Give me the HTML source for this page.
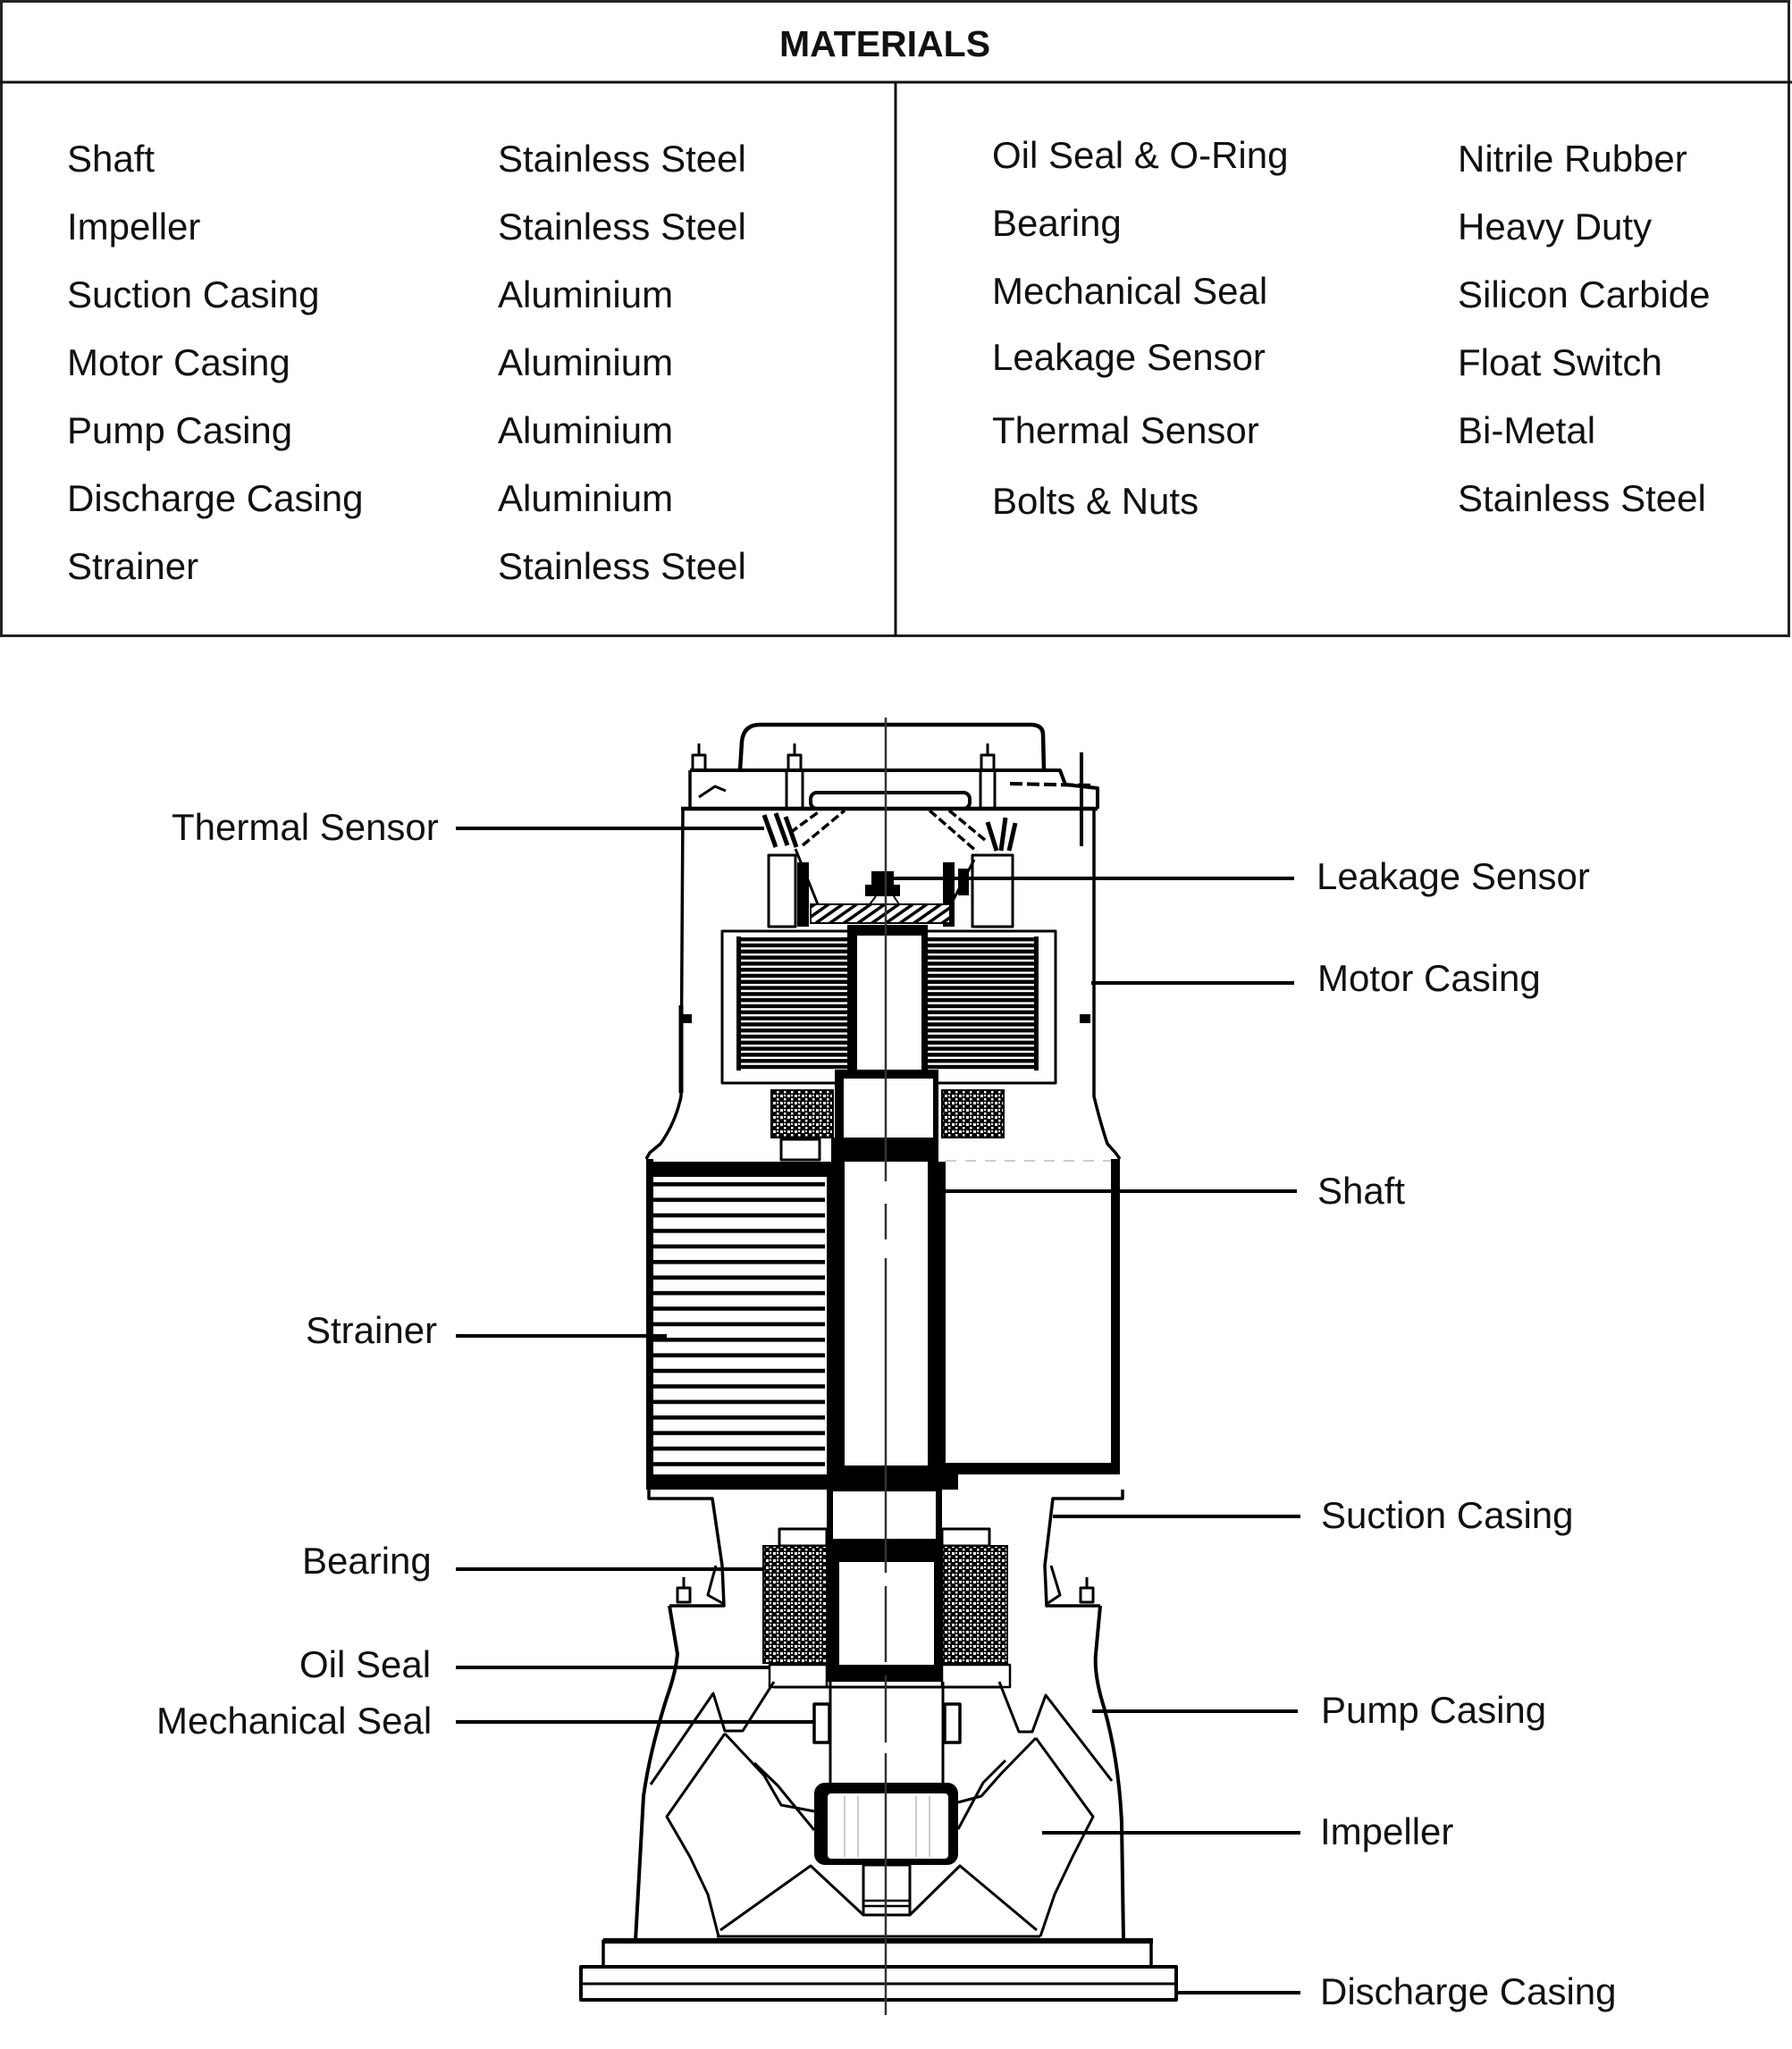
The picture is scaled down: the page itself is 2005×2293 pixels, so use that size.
<!DOCTYPE html>
<html><head><meta charset="utf-8">
<style>html,body{margin:0;padding:0;background:#fff;}svg{display:block;}</style>
</head>
<body>
<svg xmlns="http://www.w3.org/2000/svg" width="2005" height="2293" viewBox="0 0 2005 2293">
<defs>
<pattern id="stat" patternUnits="userSpaceOnUse" x="0" y="1049" width="20" height="6.8"><rect x="0" y="0" width="20" height="4.4" fill="#000"/></pattern>
<pattern id="strn" patternUnits="userSpaceOnUse" x="0" y="1323" width="20" height="17.4"><rect x="0" y="0" width="20" height="4.6" fill="#000"/></pattern>
<pattern id="brg" patternUnits="userSpaceOnUse" width="8" height="8"><rect width="8" height="8" fill="#000"/><rect x="1" y="1" width="3" height="3" fill="#fff"/><rect x="5" y="5" width="2.5" height="2.5" fill="#fff"/><rect x="5" y="1" width="2" height="2" fill="#fff"/></pattern>
<pattern id="hb" patternUnits="userSpaceOnUse" width="9" height="9" patternTransform="rotate(-35)"><rect width="9" height="9" fill="#fff"/><rect width="9" height="3.5" fill="#000"/></pattern>
</defs>
<rect width="2005" height="2293" fill="#fff"/>

<!-- TABLE -->
<rect x="1.5" y="1.5" width="2000" height="710" fill="none" stroke="#222" stroke-width="3"/>
<line x1="0" y1="92" x2="2005" y2="92" stroke="#111" stroke-width="3"/>
<line x1="1002" y1="92" x2="1002" y2="712" stroke="#111" stroke-width="3"/>
<g font-family="'Liberation Sans', Arial, sans-serif" fill="#111">
<text x="990" y="63" font-size="41" font-weight="bold" text-anchor="middle">MATERIALS</text>
<g font-size="42">
<text x="75" y="192">Shaft</text>
<text x="75" y="268">Impeller</text>
<text x="75" y="344">Suction Casing</text>
<text x="75" y="420">Motor Casing</text>
<text x="75" y="496">Pump Casing</text>
<text x="75" y="572">Discharge Casing</text>
<text x="75" y="648">Strainer</text>
<text x="557" y="192">Stainless Steel</text>
<text x="557" y="268">Stainless Steel</text>
<text x="557" y="344">Aluminium</text>
<text x="557" y="420">Aluminium</text>
<text x="557" y="496">Aluminium</text>
<text x="557" y="572">Aluminium</text>
<text x="557" y="648">Stainless Steel</text>
<text x="1110" y="188">Oil Seal &amp; O-Ring</text>
<text x="1110" y="264">Bearing</text>
<text x="1110" y="340">Mechanical Seal</text>
<text x="1110" y="414">Leakage Sensor</text>
<text x="1110" y="496">Thermal Sensor</text>
<text x="1110" y="575">Bolts &amp; Nuts</text>
<text x="1631" y="192">Nitrile Rubber</text>
<text x="1631" y="268">Heavy Duty</text>
<text x="1631" y="344">Silicon Carbide</text>
<text x="1631" y="420">Float Switch</text>
<text x="1631" y="496">Bi-Metal</text>
<text x="1631" y="572">Stainless Steel</text>

<!-- labels -->
<text x="192" y="940">Thermal Sensor</text>
<text x="342" y="1503">Strainer</text>
<text x="338" y="1761">Bearing</text>
<text x="335" y="1877">Oil Seal</text>
<text x="175" y="1940">Mechanical Seal</text>
<text x="1473" y="995">Leakage Sensor</text>
<text x="1474" y="1109">Motor Casing</text>
<text x="1474" y="1347">Shaft</text>
<text x="1478" y="1710">Suction Casing</text>
<text x="1478" y="1928">Pump Casing</text>
<text x="1477" y="2064">Impeller</text>
<text x="1477" y="2243">Discharge Casing</text>
</g>
</g>

<!-- leader lines -->
<g stroke="#000" stroke-width="4">
<line x1="510" y1="927" x2="855" y2="927"/>
<line x1="1000" y1="983" x2="1448" y2="983"/>
<line x1="1221" y1="1100" x2="1448" y2="1100"/>
<line x1="1021" y1="1333" x2="1451" y2="1333"/>
<line x1="510" y1="1495" x2="746" y2="1495"/>
<line x1="1178" y1="1697" x2="1455" y2="1697"/>
<line x1="510" y1="1756" x2="854" y2="1756"/>
<line x1="510" y1="1866" x2="861" y2="1866"/>
<line x1="510" y1="1927" x2="911" y2="1927"/>
<line x1="1222" y1="1915" x2="1452" y2="1915"/>
<line x1="1166" y1="2051" x2="1455" y2="2051"/>
<line x1="1316" y1="2230" x2="1455" y2="2230"/>
</g>

<!-- PUMP DRAWING -->
<g fill="none" stroke="#000" stroke-width="3.5" stroke-linejoin="round">
<!-- dome -->
<path d="M828,862 L830,830 Q832,811 850,811 L1155,811 Q1167,812 1167,822 L1168,862" stroke-width="4.5"/>
<!-- flange -->
<path d="M772,862 L1186,862 L1192,878 L1228,882 L1228,905" stroke-width="4"/>
<path d="M772,862 L772,905"/>
<path d="M762,905 L1228,905" stroke-width="4.5"/>
<rect x="907" y="887" width="178" height="18" rx="7" stroke-width="4"/>
<line x1="880" y1="862" x2="880" y2="905" stroke-width="3"/>
<line x1="898" y1="862" x2="898" y2="905" stroke-width="3"/>
<line x1="1097" y1="862" x2="1097" y2="905" stroke-width="3"/>
<line x1="1113" y1="862" x2="1113" y2="905" stroke-width="3"/>
<path d="M1130,877 L1225,879" stroke-dasharray="14,5" stroke-width="4"/>
<path d="M782,892 L800,880 L812,885" stroke-width="3"/>
<line x1="1210" y1="842" x2="1210" y2="947" stroke-width="4"/>
<!-- bolts -->
<rect x="775" y="845" width="14" height="17" stroke-width="3"/><line x1="782" y1="832" x2="782" y2="845" stroke-width="3"/>
<rect x="882" y="845" width="14" height="17" stroke-width="3"/><line x1="889" y1="832" x2="889" y2="845" stroke-width="3"/>
<rect x="1098" y="845" width="14" height="17" stroke-width="3"/><line x1="1105" y1="832" x2="1105" y2="845" stroke-width="3"/>

<!-- motor casing -->
<path d="M764,905 L762,1227 Q756,1256 739,1280 L727,1290 L723,1297"/>
<path d="M1224,905 L1224,1227 Q1231,1256 1239,1280 L1248,1290 L1253,1297"/>
<line x1="762" y1="1125" x2="762" y2="1223" stroke-width="5"/>

<!-- thermal sensor area -->
<path d="M855,912 L868,948 M868,910 L881,946 M879,914 L891,948" stroke-width="5"/>
<rect x="860" y="957" width="30" height="80" stroke-width="3"/>
<rect x="1088" y="957" width="45" height="80" stroke-width="3"/>
<path d="M1105,920 L1115,952 M1125,915 L1120,952 M1136,921 L1129,952" stroke-width="5"/>
<path d="M898,946 L945,907 M884,932 L918,907" stroke-dasharray="10,4" stroke-width="3.5"/>
<path d="M1040,907 L1093,953 M1062,907 L1102,940" stroke-dasharray="10,4" stroke-width="3.5"/>
<path d="M890,950 L915,1012 M1090,962 L1064,1012" stroke-width="3"/>
<path d="M980,1003 L973,1012 M1000,1003 L1006,1012" stroke-width="2"/>

<!-- stator outline -->
<rect x="808" y="1042" width="373" height="170" stroke-width="3"/>

<!-- box below left upper bearing -->
<rect x="874" y="1275" width="43" height="23" stroke-width="3"/>

<!-- right box top faint -->
<line x1="1058" y1="1299" x2="1245" y2="1299" stroke="#ccc" stroke-width="2" stroke-dasharray="12,10"/>

<!-- suction casing -->
<path d="M726,1667 L726,1677 L797,1677 L808,1752 L810,1797 L749,1797"/>
<path d="M801,1752 L792,1785 L810,1795" stroke-width="3"/>
<path d="M1256,1667 L1256,1677 L1178,1677 L1169,1752 L1171,1797 L1231,1797"/>
<path d="M1176,1752 L1186,1785 L1171,1795" stroke-width="3"/>
<rect x="758" y="1777" width="14" height="16" stroke-width="3"/><line x1="765" y1="1765" x2="765" y2="1777" stroke-width="3"/>
<rect x="1209" y="1777" width="14" height="16" stroke-width="3"/><line x1="1216" y1="1765" x2="1216" y2="1777" stroke-width="3"/>

<!-- pump casing -->
<path d="M749,1797 L758,1851 Q756,1872 746,1900 Q727,1960 720,2010 L711,2172" stroke-width="4"/>
<path d="M1231,1797 L1226,1851 Q1224,1875 1235,1910 Q1252,1970 1255,2040 L1257,2172" stroke-width="4"/>

<!-- lower bearings top boxes -->
<rect x="872" y="1711" width="53" height="19" stroke-width="3"/>
<rect x="1054" y="1711" width="53" height="19" stroke-width="3"/>
<!-- oil seals -->
<rect x="861" y="1863" width="64" height="25" stroke-width="2.5"/>
<rect x="1054" y="1863" width="76" height="25" stroke-width="2.5"/>
<line x1="866" y1="1888" x2="1122" y2="1888" stroke-width="3"/>
<!-- shaft below -->
<line x1="929" y1="1882" x2="929" y2="1996" stroke-width="3"/>
<line x1="1055" y1="1882" x2="1055" y2="1996" stroke-width="3"/>
<!-- mechanical seals -->
<rect x="911" y="1907" width="17" height="43" stroke-width="3.5"/>
<rect x="1057" y="1907" width="17" height="43" stroke-width="3.5"/>

<!-- volute zigzags / inner casing -->
<path d="M866,1882 L831,1937 L811,1937 L798,1895 L728,1997" stroke-width="3"/>
<path d="M1118,1882 L1140,1938 L1155,1938 L1170,1897 L1244,1993" stroke-width="3"/>

<!-- impeller -->
<g stroke-width="3">
<path d="M811,1940 L746,2033 L772,2078 L792,2120 L804,2167"/>
<path d="M811,1940 L855,1987 L874,2020 L911,2027"/>
<path d="M844,1973 L870,1998 L911,2048"/>
<path d="M806,2160 L907,2088 L966,2143"/>
<path d="M1159,1945 L1223,2033 L1200,2078 L1180,2120 L1164,2167"/>
<path d="M1159,1945 L1120,1985 L1098,2010 L1072,2017"/>
<path d="M1125,1970 L1100,1995 L1072,2047"/>
<path d="M1160,2160 L1074,2088 L1018,2143"/>
<path d="M802,2167 L1164,2167"/>
</g>
<!-- nut -->
<rect x="966" y="2087" width="52" height="56" stroke-width="3"/>
<line x1="966" y1="2127" x2="1018" y2="2127" stroke-width="2.5"/>
<line x1="966" y1="2133" x2="1018" y2="2133" stroke-width="2.5"/>

<!-- base / discharge casing -->
<line x1="675" y1="2172" x2="1290" y2="2172" stroke-width="6"/>
<rect x="675" y="2172" width="613" height="29" stroke-width="3.5"/>
<rect x="650" y="2201" width="666" height="37" stroke-width="4"/>
<line x1="650" y1="2220" x2="1316" y2="2220" stroke-width="3"/>
</g>

<!-- filled parts -->
<rect x="892" y="965" width="13" height="72" fill="#000"/>
<rect x="1055" y="965" width="13" height="72" fill="#000"/>
<rect x="1072" y="972" width="12" height="30" fill="#000"/>
<rect x="907" y="1012" width="156" height="21" fill="url(#hb)" stroke="#000" stroke-width="2"/>
<path d="M975,975 L1000,975 L1000,990 L1007,990 L1007,1003 L968,1003 L968,990 L975,990 Z" fill="#000"/>
<rect x="762" y="1135" width="12" height="10" fill="#000"/>
<rect x="1208" y="1135" width="12" height="10" fill="#000"/>

<!-- stator hatch -->
<rect x="824" y="1048" width="124" height="150" fill="url(#stat)"/>
<rect x="824" y="1048" width="5" height="150" fill="#000"/>
<rect x="1038" y="1048" width="124" height="150" fill="url(#stat)"/>
<rect x="1157" y="1048" width="5" height="150" fill="#000"/>
<!-- rotor -->
<rect x="948" y="1035" width="90" height="163" fill="#000"/>
<rect x="959" y="1047" width="72" height="150" fill="#fff"/>
<!-- lower shaft segment -->
<rect x="934" y="1197" width="116" height="83" fill="#000"/>
<rect x="944" y="1207" width="100" height="66" fill="#fff"/>
<!-- upper bearings -->
<rect x="863" y="1220" width="69" height="53" fill="url(#brg)" stroke="#000" stroke-width="2"/>
<rect x="1054" y="1220" width="69" height="53" fill="url(#brg)" stroke="#000" stroke-width="2"/>

<!-- strainer -->
<rect x="731" y="1317" width="192" height="333" fill="url(#strn)"/>
<rect x="723" y="1297" width="8" height="370" fill="#000"/>
<rect x="727" y="1300" width="206" height="17" fill="#000"/>
<rect x="723" y="1650" width="349" height="17" fill="#000"/>
<!-- shaft big box -->
<rect x="930" y="1273" width="120" height="30" fill="#000"/>
<rect x="925" y="1300" width="133" height="367" fill="#000"/>
<rect x="945" y="1300" width="93" height="340" fill="#fff"/>
<!-- right box -->
<rect x="1243" y="1297" width="10" height="353" fill="#000"/>
<rect x="1058" y="1637" width="195" height="13" fill="#000"/>

<!-- lower shaft in bearings -->
<rect x="925" y="1666" width="129" height="216" fill="#000"/>
<rect x="932" y="1669" width="115" height="53" fill="#fff"/>
<rect x="939" y="1748" width="106" height="115" fill="#fff"/>
<!-- lower bearings -->
<rect x="854" y="1730" width="71" height="131" fill="url(#brg)" stroke="#000" stroke-width="2"/>
<rect x="1054" y="1730" width="73" height="131" fill="url(#brg)" stroke="#000" stroke-width="2"/>

<!-- impeller hub -->
<rect x="911" y="1995" width="161" height="92" rx="12" fill="#000"/>
<rect x="926" y="2007" width="135" height="73" rx="4" fill="#fff"/>
<g stroke="#bbb" stroke-width="1.5">
<line x1="945" y1="2010" x2="945" y2="2078"/><line x1="960" y1="2010" x2="960" y2="2078"/>
<line x1="1025" y1="2010" x2="1025" y2="2078"/><line x1="1040" y1="2010" x2="1040" y2="2078"/>
</g>

<!-- centre line -->
<g stroke="#333" stroke-width="2.5">
<line x1="991" y1="803" x2="991" y2="1322"/>
<line x1="991" y1="1347" x2="991" y2="1387"/>
<line x1="991" y1="1408" x2="991" y2="1760"/>
<line x1="991" y1="1775" x2="991" y2="1860"/>
<line x1="991" y1="1875" x2="991" y2="1950"/>
<line x1="991" y1="1962" x2="991" y2="2255"/>
</g>
</svg>
</body>
</html>
